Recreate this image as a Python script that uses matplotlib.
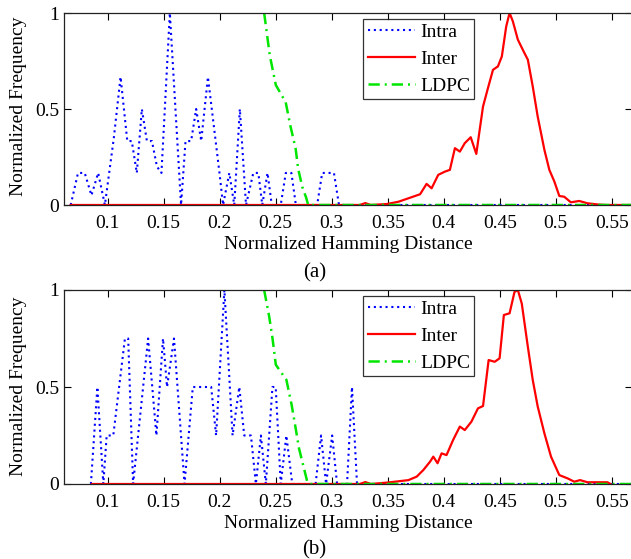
import matplotlib
matplotlib.use("Agg")
import matplotlib.pyplot as plt
from matplotlib.ticker import FixedLocator, FuncFormatter

# ---------------- data ----------------
# panel (a)
intra_a_x = [0.0670, 0.0735, 0.0795, 0.0855, 0.0915, 0.0975, 0.1055, 0.1115, 0.1175, 0.1215,
             0.1260, 0.1305, 0.1350, 0.1395, 0.1440, 0.1480, 0.1555, 0.1655, 0.1695, 0.1745,
             0.1790, 0.1835, 0.1895, 0.1998, 0.2030, 0.2086, 0.2130, 0.2180, 0.2235, 0.2300,
             0.2345, 0.2380, 0.2427, 0.2465, 0.2545, 0.2590, 0.2640, 0.2680, 0.2870, 0.2915,
             0.3020, 0.3065, 0.5700]
intra_a_y = [0.0, 0.167, 0.167, 0.05, 0.167, 0.0, 0.35, 0.667, 0.333, 0.333,
             0.167, 0.5, 0.333, 0.333, 0.20, 0.167, 1.0, 0.0, 0.333, 0.333,
             0.5, 0.333, 0.667, 0.167, 0.0, 0.167, 0.0, 0.5, 0.0, 0.167,
             0.167, 0.0, 0.167, 0.0, 0.0, 0.167, 0.167, 0.0, 0.0, 0.167,
             0.167, 0.0, 0.0]

inter_a_x = [0.0670, 0.3250, 0.3300, 0.3350, 0.3492, 0.3596, 0.3685, 0.3789, 0.3847, 0.3892,
             0.3951, 0.4011, 0.4055, 0.4100, 0.4144, 0.4188, 0.4241, 0.4291, 0.4321, 0.4351,
             0.4395, 0.4440, 0.4484, 0.4519, 0.4558, 0.4588, 0.4617, 0.4662, 0.4721, 0.4751,
             0.4795, 0.4839, 0.4899, 0.4943, 0.4988, 0.5032, 0.5076, 0.5135, 0.5210, 0.5283,
             0.5372, 0.5450, 0.5700]
inter_a_y = [0.0, 0.0, 0.01, 0.0, 0.005, 0.017, 0.035, 0.056, 0.11, 0.087,
             0.157, 0.174, 0.183, 0.296, 0.278, 0.322, 0.353, 0.266, 0.391, 0.513,
             0.609, 0.704, 0.722, 0.774, 0.930, 1.0, 0.957, 0.861, 0.791, 0.757,
             0.617, 0.461, 0.287, 0.183, 0.122, 0.047, 0.043, 0.014, 0.021, 0.009,
             0.003, 0.0, 0.0]

ldpc_a_x = [0.2397, 0.2447, 0.2501, 0.2545, 0.2589, 0.2630, 0.2678, 0.2700, 0.2737, 0.2772,
            0.2790, 0.5700]
ldpc_a_y = [1.0, 0.78, 0.625, 0.58, 0.536, 0.415, 0.294, 0.19, 0.095, 0.038,
            0.0, 0.0]

# panel (b)
intra_b_x = [0.0850, 0.0908, 0.0961, 0.0991, 0.1050, 0.1154, 0.1183, 0.1227, 0.1361, 0.1435,
             0.1494, 0.1530, 0.1592, 0.1686, 0.1760, 0.1924, 0.1968, 0.2042, 0.2115, 0.2175,
             0.2219, 0.2279, 0.2323, 0.2368, 0.2412, 0.2471, 0.2500, 0.2545, 0.2595, 0.2648,
             0.2856, 0.2905, 0.2950, 0.3004, 0.3048, 0.3137, 0.3181, 0.3226, 0.5700]
intra_b_y = [0.0, 0.5, 0.0, 0.25, 0.25, 0.75, 0.75, 0.0, 0.75, 0.25,
             0.75, 0.5, 0.75, 0.0, 0.5, 0.5, 0.25, 1.0, 0.25, 0.5,
             0.25, 0.25, 0.0, 0.25, 0.0, 0.5, 0.5, 0.0, 0.25, 0.0,
             0.0, 0.25, 0.0, 0.25, 0.0, 0.0, 0.5, 0.0, 0.0]

inter_b_x = [0.0858, 0.3250, 0.3300, 0.3350, 0.3507, 0.3685, 0.3759, 0.3818, 0.3878, 0.3907,
             0.3945, 0.3981, 0.4025, 0.4084, 0.4144, 0.4188, 0.4247, 0.4306, 0.4351, 0.4401,
             0.4455, 0.4499, 0.4537, 0.4588, 0.4632, 0.4662, 0.4697, 0.4751, 0.4795, 0.4839,
             0.4899, 0.4958, 0.5032, 0.5106, 0.5165, 0.5218, 0.5283, 0.5461, 0.5490]
inter_b_y = [0.0, 0.0, 0.01, 0.0, 0.008, 0.02, 0.038, 0.072, 0.115, 0.141,
             0.107, 0.158, 0.149, 0.227, 0.296, 0.278, 0.321, 0.39, 0.402, 0.639,
             0.63, 0.648, 0.871, 0.88, 0.99, 1.0, 0.93, 0.708, 0.536, 0.40,
             0.261, 0.141, 0.046, 0.029, 0.012, 0.02, 0.009, 0.009, 0.0]

ldpc_b_x = [0.2397, 0.2441, 0.2471, 0.2501, 0.2545, 0.2595, 0.2642, 0.2678, 0.2708, 0.2752,
            0.2782, 0.2800, 0.5700]
ldpc_b_y = [1.0, 0.866, 0.753, 0.615, 0.578, 0.538, 0.409, 0.288, 0.184, 0.081,
            0.012, 0.0, 0.0]

series_labels = ["Intra", "Inter", "LDPC"]
x_ticks = [0.1, 0.15, 0.2, 0.25, 0.3, 0.35, 0.4, 0.45, 0.5, 0.55]
y_ticks = [0, 0.5, 1]
x_label = "Normalized Hamming Distance"
y_label = "Normalized Frequency"
panel_labels = ["(a)", "(b)"]

# ---------------- style ----------------
plt.rcParams['font.family'] = ['Liberation Serif', 'DejaVu Serif']
FS = 14
W, H = 631, 559
fig = plt.figure(figsize=(W / 100, H / 100), dpi=100)

def px_rect(l, t, r, b):
    return [l / W, 1 - b / H, (r - l) / W, (b - t) / H]

panels = [
    dict(rect=px_rect(64, 13, 632, 205), ix=intra_a_x, iy=intra_a_y, ex=inter_a_x, ey=inter_a_y,
         lx=ldpc_a_x, ly=ldpc_a_y, xlab_base=249, plab_base=277, ylab_c=106.5, leg_top=0.967),
    dict(rect=px_rect(64, 290, 632, 484), ix=intra_b_x, iy=intra_b_y, ex=inter_b_x, ey=inter_b_y,
         lx=ldpc_b_x, ly=ldpc_b_y, xlab_base=527.7, plab_base=554, ylab_c=385.8, leg_top=0.969),
]

for i, p in enumerate(panels):
    ax = fig.add_axes(p['rect'])
    ax.plot(p['ix'], p['iy'], color=(0, 0, 1), lw=1.5, linestyle=(0, (1.0, 1.8)), label=series_labels[0])
    ax.plot(p['ex'], p['ey'], color=(1, 0, 0), lw=1.6, linestyle='-', label=series_labels[1])
    ax.plot(p['lx'], p['ly'], color=(0, 0.9, 0), lw=1.8, linestyle=(0, (4.5, 2.0, 0.8, 2.0)),
            label=series_labels[2])
    ax.set_xlim(0.061, 0.5681)
    ax.set_ylim(0, 1)
    ax.xaxis.set_major_locator(FixedLocator(x_ticks))
    ax.yaxis.set_major_locator(FixedLocator(y_ticks))
    ax.xaxis.set_major_formatter(FuncFormatter(lambda v, pos: f"{v:g}"))
    ax.yaxis.set_major_formatter(FuncFormatter(lambda v, pos: f"{v:g}"))
    ax.tick_params(direction='in', top=True, right=True, length=5, width=0.8,
                   labelsize=FS, colors='black')
    ax.tick_params(axis='x', pad=7)
    ax.tick_params(axis='y', pad=3.5)
    for s in ax.spines.values():
        s.set_linewidth(0.9)
        s.set_color('#222222')
    leg = ax.legend(loc='upper left', bbox_to_anchor=(0.527, p['leg_top']), borderaxespad=0,
                    fontsize=FS, frameon=True, fancybox=False, edgecolor='black',
                    handlelength=2.45, handletextpad=0.25, labelspacing=0.48, borderpad=0.22)
    leg.get_frame().set_linewidth(0.9)
    # labels
    fig.text((64 + 632) / 2 / W, 1 - p['xlab_base'] / H, x_label, ha='center', va='baseline', fontsize=FS)
    fig.text(18.5 / W, 1 - p['ylab_c'] / H, y_label, ha='center', va='center', rotation=90, fontsize=FS)
    fig.text(314.5 / W, 1 - p['plab_base'] / H, panel_labels[i], ha='center', va='baseline', fontsize=FS + 1)

fig.savefig("out.png", dpi=100)
